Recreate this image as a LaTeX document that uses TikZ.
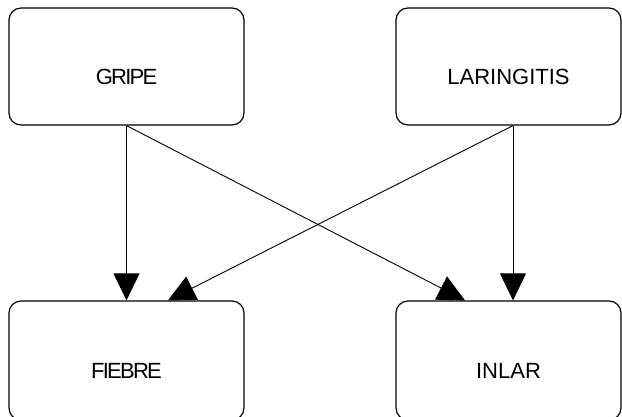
\documentclass[tikz,border=0pt]{standalone}
\usepackage{fontspec}
\setmainfont{Liberation Sans}
\usetikzlibrary{arrows.meta}
\newcommand{\tight}[1]{{\addfontfeature{LetterSpace=-8}#1}}
\begin{document}
\begin{tikzpicture}[x=1pt,y=-1pt,
  box/.style={draw=black,line width=1.2pt,rounded corners=12pt,rectangle,inner sep=0pt},
  wbox/.style={box,minimum width=235pt},
  nbox/.style={box,minimum width=225pt},
  lbl/.style={font=\fontsize{22}{24}\selectfont,inner sep=0pt},
  arr/.style={line width=0.9pt,-{Triangle[length=27pt,width=26pt]}}]
\useasboundingbox (0,0) rectangle (622,416);
% cause nodes
\node[wbox,minimum height=117pt] (gri) at (126.5,66.5) {};
\node[nbox,minimum height=117pt] (lar) at (508.5,66.5) {};
% symptom nodes
\node[wbox,minimum height=119pt] (fie) at (126.5,360.5) {};
\node[nbox,minimum height=119pt] (inl) at (508.5,360.5) {};
% labels, set a little below each box's centre
\node[lbl] (tg) at ([yshift=-10]gri.center) {\tight{GRIPE}};
\node[lbl] (tl) at ([yshift=-10]lar.center) {LARINGITIS};
\node[lbl] (tf) at ([yshift=-10]fie.center) {\tight{FIEBRE}};
\node[lbl] (ti) at ([yshift=-10]inl.center) {INLAR};
% dependencies
\draw[arr] (gri.south) -- (fie.north);
\draw[arr] (gri.south) -- ([xshift=-43.5]inl.north);
\draw[arr] ([xshift=4.5]lar.south) -- ([xshift=41.5]fie.north);
\draw[arr] ([xshift=4.5]lar.south) -- ([xshift=4.5]inl.north);
\end{tikzpicture}
\end{document}
